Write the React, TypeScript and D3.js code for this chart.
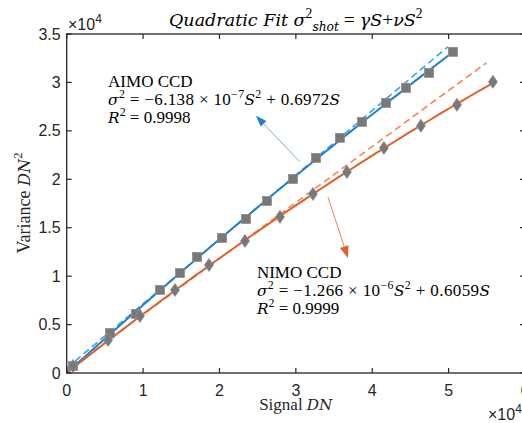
import * as d3 from "d3";

// AIMO CCD (squares)
const aimoSignal = [825, 5670, 9070, 12210, 14830, 17060, 20330, 23470, 26220, 29620, 32630, 35770, 38650, 41790, 44410, 47420, 50560];
const aimoVariance = [720, 4130, 6100, 8570, 10330, 11980, 13950, 15910, 17770, 20040, 22210, 24280, 25930, 27890, 29440, 30990, 33160];
// NIMO CCD (diamonds)
const nimoSignal = [825, 5410, 9590, 14180, 18630, 23340, 27920, 32240, 36690, 41530, 46370, 51090, 55800];
const nimoVariance = [720, 3410, 5890, 8570, 11160, 13640, 16120, 18490, 20760, 23240, 25520, 27690, 30060];
// dashed linear references, [signal, variance] end points
const aimoLinear = [[0, 500], [49900, 33680]];
const nimoLinear = [[0, 250], [54950, 32025]];

const xTicks = [0, 10000, 20000, 30000, 40000, 50000, 60000];
const xTickLabels = ["0", "1", "2", "3", "4", "5", "6"];
const yTicks = [0, 5000, 10000, 15000, 20000, 25000, 30000, 35000];
const yTickLabels = ["0", "0.5", "1", "1.5", "2", "2.5", "3", "3.5"];

const W = 522;
const H = 423;
const plot = { left: 66.7, right: 525, top: 34, bottom: 373 };

const serif = "'Liberation Serif', 'Times New Roman', serif";
const serifItalic = "'DejaVu Serif', serif";
const sans = "'Liberation Sans', Arial, Helvetica, sans-serif";

const x = d3.scaleLinear().domain([0, 60000]).range([plot.left, plot.right]);
const y = d3.scaleLinear().domain([0, 35000]).range([plot.bottom, plot.top]);

// least squares for V = a S + b S^2
function quadFit(S: number[], V: number[]) {
  let s2 = 0, s3 = 0, s4 = 0, sv = 0, s2v = 0;
  S.forEach((s0, i) => {
    const s = s0 / 1e4;
    const v = V[i];
    s2 += s * s;
    s3 += s * s * s;
    s4 += s * s * s * s;
    sv += s * v;
    s2v += s * s * v;
  });
  const det = s2 * s4 - s3 * s3;
  const a = (sv * s4 - s3 * s2v) / det;
  const b = (s2 * s2v - s3 * sv) / det;
  return (s0: number) => {
    const s = s0 / 1e4;
    return a * s + b * s * s;
  };
}

function fitPath(S: number[], V: number[]) {
  const f = quadFit(S, V);
  const maxS = d3.max(S) as number;
  const pts = d3.range(0, 61).map((i) => [(maxS * i) / 60, f((maxS * i) / 60)]);
  return d3.line<number[]>().x((d) => x(d[0])).y((d) => y(d[1]))(pts) as string;
}

const straight = d3.line<number[]>().x((d) => x(d[0])).y((d) => y(d[1]));

type Part = { t: string; i?: boolean; sup?: boolean; sub?: boolean };

function Rich({ px, py, parts, size, anchor = "start", rotate, fill = "#000", len }: any) {
  let shift = 0;
  const spans = (parts as Part[]).map((p, k) => {
    const target = p.sup ? -0.42 * size : p.sub ? 0.28 * size : 0;
    const dy = target - shift;
    shift = target;
    const base = p.i ? size * 0.9 : size;
    return (
      <tspan
        key={k}
        dy={dy}
        fontFamily={p.i ? serifItalic : serif}
        fontStyle={p.i ? "italic" : "normal"}
        fontSize={p.sup || p.sub ? base * 0.7 : base}
      >
        {p.t}
      </tspan>
    );
  });
  return (
    <text
      x={px}
      y={py}
      textAnchor={anchor}
      fontFamily={serif}
      fontSize={size}
      fill={fill}
      style={{ whiteSpace: "pre" }}
      transform={rotate ? `rotate(${rotate} ${px} ${py})` : undefined}
      textLength={len}
      lengthAdjust={len ? "spacing" : undefined}
    >
      {spans}
    </text>
  );
}

function Arrow({ from, to, shaft, head, len = 10, half = 3.5 }: any) {
  const x0 = x(from[0]), y0 = y(from[1]), x1 = x(to[0]), y1 = y(to[1]);
  const ang = Math.atan2(y1 - y0, x1 - x0);
  const bx = x1 - len * Math.cos(ang), by = y1 - len * Math.sin(ang);
  const nx = -Math.sin(ang) * half, ny = Math.cos(ang) * half;
  return (
    <g>
      <line x1={x0} y1={y0} x2={bx} y2={by} stroke={shaft} strokeWidth={1} />
      <polygon points={`${x1},${y1} ${bx + nx},${by + ny} ${bx - nx},${by - ny}`} fill={head} />
    </g>
  );
}

export default function App() {
  const tick = 5;
  const axisColor = "#262626";
  const markerFill = "#787878";
  const markerStroke = "#8e8e8e";

  return (
    <svg width={W} height={H} style={{ position: "absolute", left: 0, top: 0, background: "#fff" }}>
      <rect x={0} y={0} width={W} height={H} fill="#fff" />

      {/* dashed references */}
      <path d={straight(aimoLinear) as string} fill="none" stroke="#3aa3ee" strokeWidth={1.6} strokeDasharray="7,4" />
      <path d={straight(nimoLinear) as string} fill="none" stroke="#f5865a" strokeWidth={1.6} strokeDasharray="7,4" />

      {/* quadratic fits */}
      <path d={fitPath(aimoSignal, aimoVariance)} fill="none" stroke="#1f80d0" strokeWidth={2} />
      <path d={fitPath(nimoSignal, nimoVariance)} fill="none" stroke="#e0602a" strokeWidth={2} />

      {/* markers */}
      {aimoSignal.map((s, i) => (
        <rect key={"a" + i} x={x(s) - 4.5} y={y(aimoVariance[i]) - 4.5} width={9} height={9} fill={markerFill} stroke={markerStroke} strokeWidth={0.8} />
      ))}
      {nimoSignal.map((s, i) => {
        const cx = x(s), cy = y(nimoVariance[i]);
        return (
          <polygon key={"n" + i} points={`${cx},${cy - 6.5} ${cx + 4.5},${cy} ${cx},${cy + 6.5} ${cx - 4.5},${cy}`} fill={markerFill} stroke={markerStroke} strokeWidth={0.8} />
        );
      })}

      {/* annotation arrows */}
      <Arrow from={[30540, 21800]} to={[24780, 26550]} shaft="#6cb0e2" head="#1f80d0" len={11} half={4} />
      <Arrow from={[34200, 18180]} to={[36820, 11880]} shaft="#ec8458" head="#e0602a" len={12} half={4.5} />

      {/* box and ticks */}
      <rect x={plot.left} y={plot.top} width={plot.right - plot.left} height={plot.bottom - plot.top} fill="none" stroke={axisColor} strokeWidth={1.3} />
      {xTicks.map((t) => (
        <g key={"xt" + t}>
          <line x1={x(t)} x2={x(t)} y1={plot.bottom} y2={plot.bottom - tick} stroke={axisColor} strokeWidth={1.2} />
          <line x1={x(t)} x2={x(t)} y1={plot.top} y2={plot.top + tick} stroke={axisColor} strokeWidth={1.2} />
        </g>
      ))}
      {yTicks.map((t) => (
        <g key={"yt" + t}>
          <line x1={plot.left} x2={plot.left + tick} y1={y(t)} y2={y(t)} stroke={axisColor} strokeWidth={1.2} />
          <line x1={plot.right} x2={plot.right - tick} y1={y(t)} y2={y(t)} stroke={axisColor} strokeWidth={1.2} />
        </g>
      ))}
      {xTicks.map((t, i) => (
        <text key={"xl" + t} x={x(t)} y={plot.bottom + 23} textAnchor="middle" fontFamily={sans} fontSize={16} fill={axisColor}>
          {xTickLabels[i]}
        </text>
      ))}
      {yTicks.map((t, i) => (
        <text key={"yl" + t} x={plot.left - 6} y={y(t) + 5.5} textAnchor="end" fontFamily={sans} fontSize={16} fill={axisColor}>
          {yTickLabels[i]}
        </text>
      ))}

      {/* exponent labels */}
      <text x={68} y={30} fontFamily={sans} fontSize={16} fill={axisColor}>
        ×10<tspan dy={-7} fontSize={12}>4</tspan>
      </text>
      <text x={488} y={420} fontFamily={sans} fontSize={16} fill={axisColor}>
        ×10<tspan dy={-7} fontSize={12}>4</tspan>
      </text>

      {/* title */}
      <Rich
        px={(plot.left + plot.right) / 2}
        py={26}
        anchor="middle"
        size={19.5}
        parts={[
          { t: "Quadratic Fit ", i: true },
          { t: "σ", i: true },
          { t: "2", sup: true },
          { t: "shot", i: true, sub: true },
          { t: " = " },
          { t: "γS", i: true },
          { t: "+" },
          { t: "νS", i: true },
          { t: "2", sup: true },
        ]}
      />

      {/* axis labels */}
      <Rich
        px={(plot.left + plot.right) / 2}
        py={410}
        anchor="middle"
        size={17}
        fill={axisColor}
        parts={[{ t: "Signal " }, { t: "DN", i: true }]}
      />
      <Rich
        px={30}
        py={203}
        anchor="middle"
        size={18}
        rotate={-90}
        fill={axisColor}
        parts={[{ t: "Variance " }, { t: "DN", i: true }, { t: "2", sup: true }]}
      />

      {/* AIMO annotation */}
      <Rich px={x(5420)} py={y(29540)} size={17} parts={[{ t: "AIMO CCD" }]} />
      <Rich
        px={x(5420)}
        py={y(27680)}
        size={17}
        len={232}
        parts={[
          { t: "σ", i: true },
          { t: "2", sup: true },
          { t: " = −6.138 × 10" },
          { t: "−7", sup: true },
          { t: "S", i: true },
          { t: "2", sup: true },
          { t: " + 0.6972" },
          { t: "S", i: true },
        ]}
      />
      <Rich px={x(5420)} py={y(25820)} size={17} parts={[{ t: "R", i: true }, { t: "2", sup: true }, { t: " = 0.9998" }]} />

      {/* NIMO annotation */}
      <Rich px={x(24900)} py={y(9810)} size={17} parts={[{ t: "NIMO CCD" }]} />
      <Rich
        px={x(24900)}
        py={y(7950)}
        size={17}
        len={233}
        parts={[
          { t: "σ", i: true },
          { t: "2", sup: true },
          { t: " = −1.266 × 10" },
          { t: "−6", sup: true },
          { t: "S", i: true },
          { t: "2", sup: true },
          { t: " + 0.6059" },
          { t: "S", i: true },
        ]}
      />
      <Rich px={x(24900)} py={y(6090)} size={17} parts={[{ t: "R", i: true }, { t: "2", sup: true }, { t: " = 0.9999" }]} />
    </svg>
  );
}
